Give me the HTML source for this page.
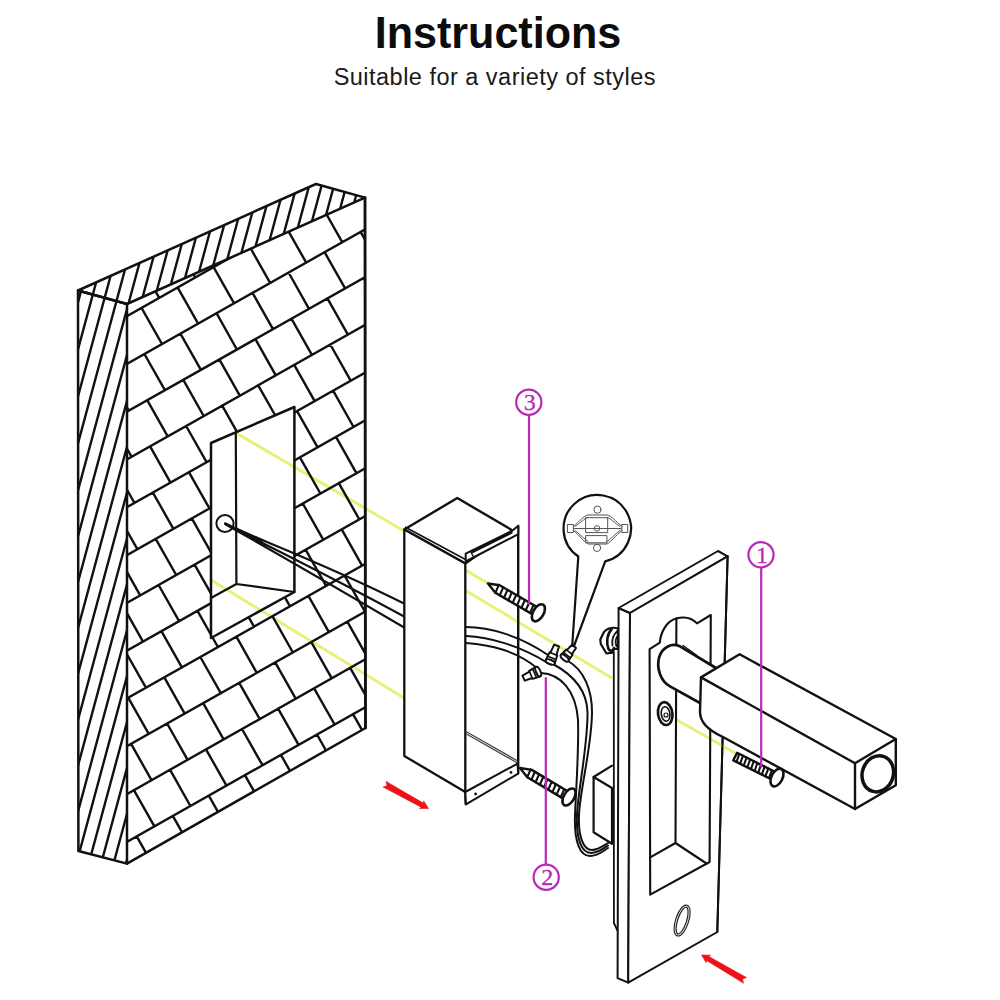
<!DOCTYPE html>
<html><head><meta charset="utf-8"><title>Instructions</title>
<style>
html,body{margin:0;padding:0;background:#fff;}
body{width:1000px;height:1000px;position:relative;overflow:hidden;font-family:"Liberation Sans",sans-serif;}
#t{position:absolute;left:-1.8px;width:1000px;top:5.8px;text-align:center;font-weight:bold;font-size:44.8px;line-height:52px;color:#0c0c0c;transform:scaleX(0.962);transform-origin:500px 0;white-space:nowrap;}
#s{position:absolute;left:-5.2px;width:1000px;top:63px;text-align:center;font-size:23.5px;line-height:28px;color:#1a1a1a;letter-spacing:0.48px;white-space:nowrap;}
</style></head><body>
<svg width="1000" height="1000" viewBox="0 0 1000 1000" style="position:absolute;left:0;top:0" stroke-linecap="round" stroke-linejoin="round">
<defs>
<clipPath id="hc"><path d="M78,290.5L316,184L365,197.6L127,304L127,863.6L78.4,851Z"/></clipPath>
<clipPath id="bc"><path clip-rule="evenodd" d="M127,304L365,197.6L365.5,728L127,863.6ZM211,443L294.4,407L294.4,592L211,638Z"/></clipPath>
</defs>
<path d="M236,433L405,531.5M465.5,570L488,583.5M211,580L404,698M465.5,590.5L611,677.5" stroke="#e8f078" stroke-width="3" fill="none" />
<g clip-path="url(#hc)">
<path d="M63,170L-128.9,880M75.7,170L-116.2,880M88.4,170L-103.5,880M101.1,170L-90.8,880M113.8,170L-78.1,880M126.5,170L-65.4,880M139.2,170L-52.7,880M151.9,170L-40,880M164.6,170L-27.3,880M177,170L-14.9,880M189.4,170L-2.5,880M201.8,170L9.9,880M214.2,170L22.3,880M226.6,170L34.7,880M239,170L47.1,880M251.4,170L59.5,880M263.8,170L71.9,880M276.2,170L84.3,880M288.6,170L96.7,880M301,170L109.1,880M313.4,170L121.5,880M325.8,170L133.9,880M338.2,170L146.3,880M350.6,170L158.7,880M363,170L171.1,880M375.4,170L183.5,880M387.8,170L195.9,880M400.2,170L208.3,880M412.6,170L220.7,880M425,170L233.1,880M437.4,170L245.5,880M449.8,170L257.9,880M462.2,170L270.3,880" stroke="#111" stroke-width="2.4" fill="none" />
</g>
<g clip-path="url(#bc)">
<path d="M120,320L372,177.6M120,367.8L372,225.4M120,415.6L372,273.2M120,463.4L372,321M120,511.2L372,368.8M120,559L372,416.6M120,606.8L372,464.4M120,654.6L372,512.2M120,702.4L372,560M120,750.2L372,607.8M120,798L372,655.6M120,845.8L372,703.4M102.7,282L123.1,318.2M138.7,261.6L159.2,297.8M174.7,241.2L195.2,277.5M210.8,220.9L231.3,257.1M246.8,200.5L267.3,236.7M282.9,180.1L303.3,216.4M105.5,328.2L126,364.4M141.5,307.8L162,344M177.6,287.4L198.1,323.7M213.6,267.1L234.1,303.3M249.7,246.7L270.1,282.9M285.7,226.3L306.2,262.6M321.8,206L342.2,242.2M357.8,185.6L378.3,221.8M108.3,374.3L128.8,410.6M144.4,354L164.9,390.2M180.4,333.6L200.9,369.8M216.5,313.2L236.9,349.5M252.5,292.9L273,329.1M288.6,272.5L309,308.8M324.6,252.2L345.1,288.4M360.6,231.8L381.1,268M111.2,420.5L131.6,456.8M147.2,400.2L167.7,436.4M183.3,379.8L203.7,416M219.3,359.4L239.8,395.7M255.4,339.1L275.8,375.3M291.4,318.7L311.9,354.9M327.4,298.3L347.9,334.6M363.5,278L384,314.2M114,466.7L134.5,503M150.1,446.4L170.5,482.6M186.1,426L206.6,462.2M222.2,405.6L242.6,441.9M258.2,385.3L278.7,421.5M294.2,364.9L314.7,401.1M330.3,344.5L350.8,380.8M366.3,324.2L386.8,360.4M116.9,512.9L137.3,549.2M152.9,492.6L173.4,528.8M188.9,472.2L209.4,508.4M225,451.8L245.5,488.1M261,431.5L281.5,467.7M297.1,411.1L317.6,447.3M333.1,390.7L353.6,427M369.2,370.4L389.6,406.6M119.7,559.1L140.2,595.4M155.7,538.8L176.2,575M191.8,518.4L212.3,554.6M227.8,498L248.3,534.3M263.9,477.7L284.4,513.9M299.9,457.3L320.4,493.5M336,436.9L356.4,473.2M372,416.6L392.5,452.8M122.5,605.3L143,641.6M158.6,585L179.1,621.2M194.6,564.6L215.1,600.8M230.7,544.2L251.1,580.5M266.7,523.9L287.2,560.1M302.8,503.5L323.2,539.7M338.8,483.1L359.3,519.4M125.4,651.5L145.9,687.7M161.4,631.1L181.9,667.4M197.5,610.8L217.9,647M233.5,590.4L254,626.7M269.6,570.1L290,606.3M305.6,549.7L326.1,585.9M341.7,529.3L362.1,565.6M128.2,697.7L148.7,733.9M164.3,677.3L184.7,713.6M200.3,657L220.8,693.2M236.4,636.6L256.8,672.8M272.4,616.2L292.9,652.5M308.4,595.9L328.9,632.1M344.5,575.5L365,611.7M131.1,743.9L151.5,780.1M167.1,723.5L187.6,759.8M203.2,703.2L223.6,739.4M239.2,682.8L259.7,719M275.2,662.4L295.7,698.7M311.3,642.1L331.8,678.3M347.3,621.7L367.8,657.9M133.9,790.1L154.4,826.3M170,769.7L190.4,806M206,749.4L226.5,785.6M242,729L262.5,765.2M278.1,708.6L298.6,744.9M314.1,688.3L334.6,724.5M350.2,667.9L370.6,704.1M100.7,856.7L121.2,892.9M136.7,836.3L157.2,872.5M172.8,815.9L193.3,852.2M208.8,795.6L229.3,831.8M244.9,775.2L265.4,811.4M280.9,754.8L301.4,791.1M317,734.5L337.4,770.7M353,714.1L373.5,750.3" stroke="#111" stroke-width="2.4" fill="none" />
</g>
<path d="M78,290.5L316,184L365,197.6L127,304Z" stroke="#111" stroke-width="2.5" fill="none" />
<path d="M78,290.5L127,304L127,863.6L78.4,851Z" stroke="#111" stroke-width="2.5" fill="none" />
<path d="M127,863.6L365.5,728" stroke="#111" stroke-width="2.5" fill="none" />
<path d="M365,197.6L365.5,728" stroke="#111" stroke-width="2.9" fill="none" />
<path d="M211,443L294.4,407L294.4,592L211,638Z" stroke="#111" stroke-width="2.5" fill="none" />
<path d="M235.8,433L236.4,584M236.4,584L294.4,592M236.4,584L211,598" stroke="#111" stroke-width="2.2" fill="none" />
<circle cx="225" cy="523.5" r="8.6" fill="#fff" stroke="#111" stroke-width="2"/>
<path d="M225,524C260,540 330,566 405,604M225,524C260,542 330,576 405,617M225,524C262,545 330,584 405,628" stroke="#111" stroke-width="2.1" fill="none" />
<path d="M225,523L262,540L262,545Z" stroke="#111" stroke-width="1.5" fill="#111" />
<path d="M404.3,529.5L457.3,498L512.6,530.5L465.3,563.5Z" stroke="#111" stroke-width="2.4" fill="#fff" />
<path d="M404.3,529.5L465.3,563.5L465.3,792L404.3,756Z" stroke="#111" stroke-width="2.3" fill="#fff" />
<path d="M465.3,792L465.6,804" stroke="#111" stroke-width="2.3" fill="none" />
<path d="M405.5,527.3L466,559.8" stroke="#111" stroke-width="1.6" fill="none" />
<path d="M518.2,526L518.2,773" stroke="#111" stroke-width="2.4" fill="none" />
<path d="M465.7,553.6L512.6,530.5L518.2,525.8L518.2,534.2L465.7,561.5Z" stroke="#111" stroke-width="2" fill="#fff" />
<path d="M473,551.5L511,532.5" stroke="#111" stroke-width="3" fill="none" />
<path d="M471,552L473,556" stroke="#111" stroke-width="1.5" fill="none" />
<path d="M465.3,792L517.5,763.6L518.2,773.6L466,804.4Z" stroke="#111" stroke-width="2" fill="#fff" />
<circle cx="475.6" cy="794" r="1.4" fill="#111"/><circle cx="511" cy="772.4" r="1.4" fill="#111"/>
<path d="M466,731.5L517,760.5M466,733.7L517,762.7" stroke="#444" stroke-width="1.3" fill="none" />
<path d="M466,627C490,627 520,636 548,655M466,636C490,637 520,646 546,662M466,643C490,645 515,650 537,668" stroke="#111" stroke-width="2" fill="none" />
<path d="M553,664C575,676 587,692 587.5,712C588,745 578,790 577,815C576,840 582,853 591,853C598,853 603,849 608,845.5" stroke="#111" stroke-width="2" fill="none" />
<path d="M568,661C584,670 592,690 592,712C592,745 580,790 579,815C578,838 584,850 592,850C598,850 603,846 608,843" stroke="#111" stroke-width="2" fill="none" />
<path d="M541,673C560,674 576,690 578,720C579,750 576,790 575,815C574,842 580,856 590,856C598,856 603,851 608,848" stroke="#111" stroke-width="2" fill="none" />
<path d="M593.6,777L612,788L612,843.8L593.6,832.3Z" stroke="#111" stroke-width="2.2" fill="#fff" />
<path d="M593.6,777L612,765.6" stroke="#111" stroke-width="2.2" fill="none" />
<path d="M613.8,652L613.9,923L617.2,930" stroke="#111" stroke-width="1.8" fill="none" />
<path d="M618.6,608L630,613L628.2,982.6L617.6,978.2Z" stroke="#111" stroke-width="2" fill="#fff" />
<path d="M618.6,608L718,551L727.6,556.3L630,613Z" stroke="#111" stroke-width="2" fill="#fff" />
<path d="M630,613L727.6,556.3L717.3,932L628.2,982.6Z" stroke="#111" stroke-width="2" fill="#fff" />
<path d="M650.2,894.7L649.6,649.2L659.8,642.6C660.5,633 666,621.5 676,618.6C684,616.3 692,618 697,623.4L710.8,615L709.6,862Z" stroke="none" stroke-width="0" fill="#fff" />
<path d="M676.6,719.8L736,753.5" stroke="#e8f078" stroke-width="3" fill="none" />
<path d="M650.2,894.7L649.6,649.2L659.8,642.6C660.5,633 666,621.5 676,618.6C684,616.3 692,618 697,623.4L710.8,615L709.6,862Z" stroke="#111" stroke-width="2.1" fill="none" />
<path d="M727.6,556.3L717.3,932" stroke="#111" stroke-width="2" fill="none" />
<path d="M676.4,618.5L675.5,843M650.2,857.3L675.5,843M675.5,843L706.5,863.5" stroke="#111" stroke-width="2.1" fill="none" />
<path d="M716,668L679.6,646.2C672,642.5 662.5,647 659.2,657C656,668.5 661,681.5 670,686.4L700,703" stroke="#111" stroke-width="2.7" fill="#fff" />
<path d="M683,645.5L697,655.5" stroke="#111" stroke-width="1.4" fill="none" />
<path d="M701,677.4L739.6,654.3L895.8,739L895.8,785.2L855,809L722,736.5C708,730 700,722 700,712Z" stroke="#111" stroke-width="2.4" fill="#fff" />
<path d="M701,677.4L855,763.2M855,763.2L895.8,739M855,763.2L855,809" stroke="#111" stroke-width="2.4" fill="none" />
<ellipse cx="877.8" cy="773.8" rx="15.5" ry="18.3" transform="rotate(18 877.8 773.8)" stroke="#111" stroke-width="3.5" fill="#fff"/>
<path d="M618,628.5C612,626.5 606,629 604,632L600.3,639.5L600.8,644L606.5,653.5L612.5,652.7L614,649L618,649Z" stroke="#111" stroke-width="2.2" fill="#fff" />
<path d="M611.5,629.5C607,634 606,643 608.5,649C610,651.5 612.5,651.5 614,648" stroke="#111" stroke-width="2.6" fill="none" />
<path d="M617.5,631C613.5,634.5 611.5,640 612.5,645.5M618.3,635C615.5,638 615,642 616.5,646.5" stroke="#111" stroke-width="1.8" fill="none" />
<ellipse cx="665.2" cy="713.6" rx="7.2" ry="11.5" transform="rotate(-8 665.2 713.6)" stroke="#111" stroke-width="2.6" fill="#fff"/>
<ellipse cx="665.6" cy="714" rx="4.3" ry="7.3" transform="rotate(-8 665.6 714)" stroke="#111" stroke-width="1.6" fill="none"/>
<circle cx="666" cy="715" r="2" fill="none" stroke="#111" stroke-width="1.2"/>
<ellipse cx="682.1" cy="920.6" rx="5.5" ry="15" transform="rotate(18 682.1 920.6)" stroke="#222" stroke-width="3.2" fill="none"/>
<ellipse cx="682.1" cy="920.6" rx="5.5" ry="15" transform="rotate(18 682.1 920.6)" stroke="#ddd" stroke-width="1" fill="none"/>
<path d="M488,583.5L499.7,585.3L537.9,607.5L533.5,614.9L495.3,592.7Z" stroke="#111" stroke-width="2.4" fill="#fff" />
<path d="M498.8,584.8L495.4,592.8M503.2,587.3L499.7,595.3M507.5,589.9L504,597.8M511.8,592.4L508.4,600.3M516.2,594.9L512.7,602.8M520.5,597.4L517.1,605.4M524.9,600L521.4,607.9M529.2,602.5L525.7,610.4M533.5,605L530.1,612.9" stroke="#111" stroke-width="2.1" fill="none" />
<ellipse cx="538.4" cy="612.8" rx="5.2" ry="9.4" transform="rotate(30.2 538.4 612.8)" stroke="#111" stroke-width="2.6" fill="#fff"/>
<path d="M520,768L531.7,769.9L568.5,791.7L564.1,799.1L527.3,777.3Z" stroke="#111" stroke-width="2.4" fill="#fff" />
<path d="M530.7,769.4L527.2,777.3M534.9,771.8L531.4,779.7M539.1,774.3L535.6,782.2M543.3,776.8L539.8,784.7M547.5,779.3L544,787.2M551.7,781.8L548.2,789.7M555.9,784.2L552.4,792.1M560.1,786.7L556.5,794.6M564.3,789.2L560.7,797.1" stroke="#111" stroke-width="2.1" fill="none" />
<ellipse cx="569" cy="797" rx="5.2" ry="9.4" transform="rotate(30.6 569 797)" stroke="#111" stroke-width="2.6" fill="#fff"/>
<path d="M737.1,752.8L775.9,772.3L772.2,779.8L733.3,760.4Z" stroke="#111" stroke-width="2.4" fill="#fff" />
<path d="M739.3,754L736.5,761.9M743,755.8L740.1,763.7M746.6,757.6L743.7,765.5M750.2,759.4L747.3,767.4M753.8,761.2L750.9,769.2M757.4,763L754.6,771M761,764.8L758.2,772.8M764.6,766.6L761.8,774.6M768.3,768.4L765.4,776.4M771.9,770.2L769,778.2" stroke="#111" stroke-width="2.1" fill="none" />
<ellipse cx="777" cy="777.5" rx="5.5" ry="9.5" transform="rotate(26.6 777 777.5)" stroke="#111" stroke-width="2.6" fill="#fff"/>
<g transform="translate(550.2 662) rotate(-68.7)" stroke="#111" stroke-width="2" fill="#fff">
<path d="M0,-4.8L8.8,-4.1L8.8,-3.2L17.6,-2.6L17.6,2.6L8.8,3.2L8.8,4.1L0,4.8Z"/>
<path d="M4.4,-4.4L4.4,4.4M8.8,-3.2L8.8,3.2" stroke-width="1.6" fill="none"/>
<ellipse cx="0" cy="0" rx="2.2" ry="4.8"/>
</g>
<g transform="translate(564.6 658) rotate(-51)" stroke="#111" stroke-width="2" fill="#fff">
<path d="M0,-4.8L7.5,-4.1L7.5,-3.2L15,-2.6L15,2.6L7.5,3.2L7.5,4.1L0,4.8Z"/>
<path d="M3.8,-4.4L3.8,4.4M7.5,-3.2L7.5,3.2" stroke-width="1.6" fill="none"/>
<ellipse cx="0" cy="0" rx="2.2" ry="4.8"/>
</g>
<g transform="translate(538.2 671.6) rotate(156)" stroke="#111" stroke-width="2" fill="#fff">
<path d="M0,-5.2L8,-4.4L8,-3.5L16,-2.8L16,2.8L8,3.5L8,4.4L0,5.2Z"/>
<path d="M4,-4.8L4,4.8M8,-3.5L8,3.5" stroke-width="1.6" fill="none"/>
<ellipse cx="0" cy="0" rx="2.2" ry="5.2"/>
</g>
<path d="M578.3,556.5A33.7,33.7 0 1 1 605.2,561.4L574,646L572.3,644.5Z" stroke="#111" stroke-width="2.2" fill="#fff" />
<g stroke="#555" stroke-width="1" fill="none">
<rect x="586" y="517.7" width="21.7" height="14.9"/><rect x="586" y="535.6" width="20.9" height="7.2"/>
<circle cx="597.5" cy="509.7" r="3.6"/><circle cx="597.1" cy="547.9" r="3.6"/><circle cx="597.1" cy="528.4" r="2.8"/>
<rect x="567.8" y="524.5" width="5.5" height="8"/><rect x="622.2" y="524.5" width="5.5" height="8"/>
<path d="M573.3,526.5C580,521 583,516 588,515L607,515C612,516 615,521 622.2,526.5M573.3,530.5C580,536 583,541 588,544L607,544C612,541 615,536 622.2,530.5M574,528.5L621,528.5"/>
<path d="M575,526.5C581,522.5 584,518.5 588,517.5M620,526.5C614,522.5 611,518.5 607,517.5M575,530.5C581,535 584,539 588,541.5M620,530.5C614,535 611,539 607,541.5"/>
</g>
<path d="M529,415L529,603.5" stroke="#b928b9" stroke-width="2.2" fill="none" />
<circle cx="528.8" cy="402.2" r="12.6" fill="#fff" stroke="#b928b9" stroke-width="2.2"/>
<text x="529.8" y="410.3" font-family="Liberation Serif, serif" font-size="24" fill="#b928b9" stroke="#b928b9" stroke-width="0.3" text-anchor="middle">3</text>
<path d="M545.8,678L545.8,864" stroke="#b928b9" stroke-width="2.2" fill="none" />
<circle cx="546.2" cy="877.2" r="12.6" fill="#fff" stroke="#b928b9" stroke-width="2.2"/>
<text x="547.2" y="885.3000000000001" font-family="Liberation Serif, serif" font-size="24" fill="#b928b9" stroke="#b928b9" stroke-width="0.3" text-anchor="middle">2</text>
<path d="M761.2,567L761.2,766.5" stroke="#b928b9" stroke-width="2.2" fill="none" />
<circle cx="761" cy="554.8" r="12.6" fill="#fff" stroke="#b928b9" stroke-width="2.2"/>
<text x="762" y="562.9" font-family="Liberation Serif, serif" font-size="24" fill="#b928b9" stroke="#b928b9" stroke-width="0.3" text-anchor="middle">1</text>
<path d="M386.1,781.6L386.9,785.7L383.1,787.1L421.2,807.2L419.4,808.5L428.5,808.5L423.6,800.8L423.5,803Z" stroke="#ee1118" stroke-width="0.6" fill="#ee1118" />
<path d="M743.4,982.9L742.6,978.9L746.5,977.6L708.8,956.4L710.6,955.2L701.5,955L706.2,962.8L706.3,960.6Z" stroke="#ee1118" stroke-width="0.6" fill="#ee1118" />
</svg>
<div id="t">Instructions</div>
<div id="s">Suitable for a variety of styles</div>
</body></html>
